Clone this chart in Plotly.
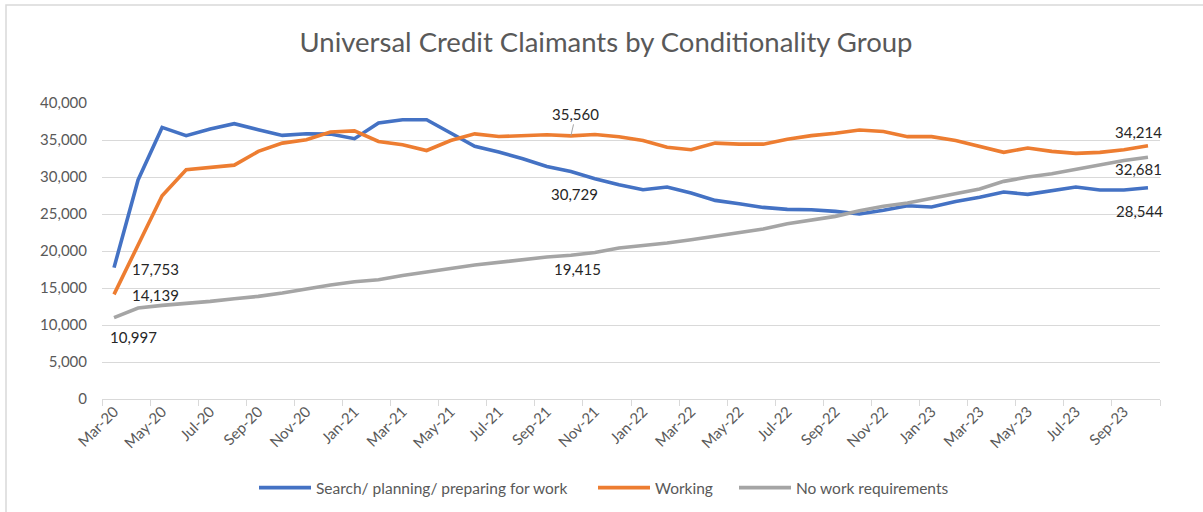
import plotly.graph_objects as go

months = ["Mar-20", "Apr-20", "May-20", "Jun-20", "Jul-20", "Aug-20", "Sep-20", "Oct-20", "Nov-20", "Dec-20",
          "Jan-21", "Feb-21", "Mar-21", "Apr-21", "May-21", "Jun-21", "Jul-21", "Aug-21", "Sep-21", "Oct-21",
          "Nov-21", "Dec-21", "Jan-22", "Feb-22", "Mar-22", "Apr-22", "May-22", "Jun-22", "Jul-22", "Aug-22",
          "Sep-22", "Oct-22", "Nov-22", "Dec-22", "Jan-23", "Feb-23", "Mar-23", "Apr-23", "May-23", "Jun-23",
          "Jul-23", "Aug-23", "Sep-23", "Oct-23"]

search = [17753, 29600, 36700, 35580, 36490, 37200, 36400, 35620, 35850, 35800,
          35180, 37300, 37740, 37740, 35950, 34140, 33380, 32470, 31430, 30729,
          29770, 28940, 28280, 28640, 27830, 26840, 26390, 25890, 25620, 25580,
          25350, 25000, 25500, 26120, 25940, 26700, 27250, 27970, 27650, 28100,
          28640, 28240, 28240, 28544]

working = [14139, 20800, 27470, 30990, 31300, 31600, 33460, 34580, 35040, 36080,
           36230, 34800, 34350, 33580, 34930, 35830, 35470, 35560, 35700, 35560,
           35750, 35430, 34930, 34030, 33680, 34580, 34440, 34440, 35110, 35590,
           35910, 36360, 36160, 35450, 35450, 34930, 34140, 33330, 33920, 33460,
           33190, 33330, 33690, 34214]

no_work = [10997, 12290, 12650, 12880, 13190, 13550, 13870, 14320, 14900, 15400,
           15850, 16120, 16700, 17110, 17640, 18100, 18500, 18810, 19180, 19415,
           19800, 20400, 20720, 21080, 21530, 21970, 22420, 22970, 23690, 24130,
           24680, 25450, 26050, 26480, 27110, 27740, 28380, 29410, 29990, 30440,
           31070, 31650, 32230, 32681]

series_names = ["Search/ planning/ preparing for work", "Working", "No work requirements"]

FONT = "Lato, 'Open Sans', sans-serif"
GRID = "#d9d9d9"
TXT = "#595959"
colors = ["#4472C4", "#ED7D31", "#A5A5A5"]
legend_ids = ["legend", "legend2", "legend3"]
legend_left_px = [254, 593, 734]

x_idx = list(range(len(months)))

W, H = 1203, 512
L, R, T, B = 102, 43, 103, 113

fig = go.Figure()
for name, vals, col, lg in zip(series_names, [search, working, no_work], colors, legend_ids):
    fig.add_trace(go.Scatter(x=x_idx, y=vals, mode="lines", name=name, legend=lg,
                             line=dict(color=col, width=3.6), hoverinfo="skip"))

# invisible trace to carry secondary axis (tick marks at category boundaries)
fig.add_trace(go.Scatter(x=[-0.5, 43.5], y=[None, None], xaxis="x2", showlegend=False,
                         mode="lines", hoverinfo="skip"))

# data labels (offsets in px)
offsets = {
    0: {0: (41, -1), 19: (4, -22), 43: (-8, -23)},
    1: {0: (41, -1), 43: (-9, 14)},
    2: {0: (19, -19), 19: (7, -14), 43: (-9, -12)},
}
all_vals = [search, working, no_work]
for s, d in offsets.items():
    for i, (dx, dy) in d.items():
        fig.add_annotation(x=i, y=all_vals[s][i], text=f"{all_vals[s][i]:,}", showarrow=False,
                           xshift=dx, yshift=dy, font=dict(family=FONT, size=15, color="#262626"))
# label with leader line
fig.add_annotation(x=19, y=working[19], text=f"{working[19]:,}", showarrow=True, arrowhead=0,
                   arrowwidth=1, arrowcolor="#a5a5a5", ax=5, ay=-22, standoff=0,
                   font=dict(family=FONT, size=15, color="#262626"))

tickvals = x_idx[::2]
ticktext = months[::2]

legend_common = dict(orientation="h", xref="container", yref="container", xanchor="left",
                     y=1 - 488 / H, yanchor="middle", font=dict(family=FONT, size=15.5, color=TXT),
                     itemwidth=52, bgcolor="rgba(0,0,0,0)", borderwidth=0)

fig.update_layout(
    width=W, height=H,
    margin=dict(l=L, r=R, t=T, b=B),
    paper_bgcolor="white", plot_bgcolor="white",
    title=dict(text="Universal Credit Claimants by Conditionality Group", x=606 / W, xref="container",
               xanchor="center", y=1 - 42 / H, yanchor="middle",
               font=dict(family=FONT, size=27.5, color=TXT)),
    xaxis=dict(range=[-0.5, 43.5], tickmode="array", tickvals=tickvals, ticktext=ticktext,
               tickangle=-45, ticks="", showgrid=False, zeroline=False, showline=False,
               tickfont=dict(family=FONT, size=15, color=TXT)),
    xaxis2=dict(range=[-0.5, 43.5], overlaying="x", side="bottom", tickmode="array",
                tickvals=[v - 0.5 for v in x_idx[::2]] + [43.5], showticklabels=False,
                ticks="outside", ticklen=6, tickcolor=GRID, tickwidth=1.3,
                showline=True, linecolor=GRID, linewidth=1.3, showgrid=False, zeroline=False),
    yaxis=dict(range=[0, 40000], dtick=5000, tickformat=",", showgrid=True, gridcolor=GRID,
               gridwidth=1.3, zeroline=False, showline=False, ticks="", ticklabelstandoff=14,
               tickfont=dict(family=FONT, size=15, color=TXT)),
    legend=dict(x=legend_left_px[0] / W, **legend_common),
    legend2=dict(x=legend_left_px[1] / W, **legend_common),
    legend3=dict(x=legend_left_px[2] / W, **legend_common),
    showlegend=True,
)

# outer chart border (left and top edges visible)
pw, ph = W - L - R, H - T - B
fig.add_shape(type="rect", xref="paper", yref="paper",
              x0=(6 - L) / pw, x1=(1215 - L) / pw,
              y0=-(520 - (H - B)) / ph, y1=((H - B) - 5) / ph,
              line=dict(color=GRID, width=1.5), fillcolor="rgba(0,0,0,0)", layer="below")

fig.write_html("out.html", config={"displayModeBar": False},
               post_script="document.body.style.margin='0';")
